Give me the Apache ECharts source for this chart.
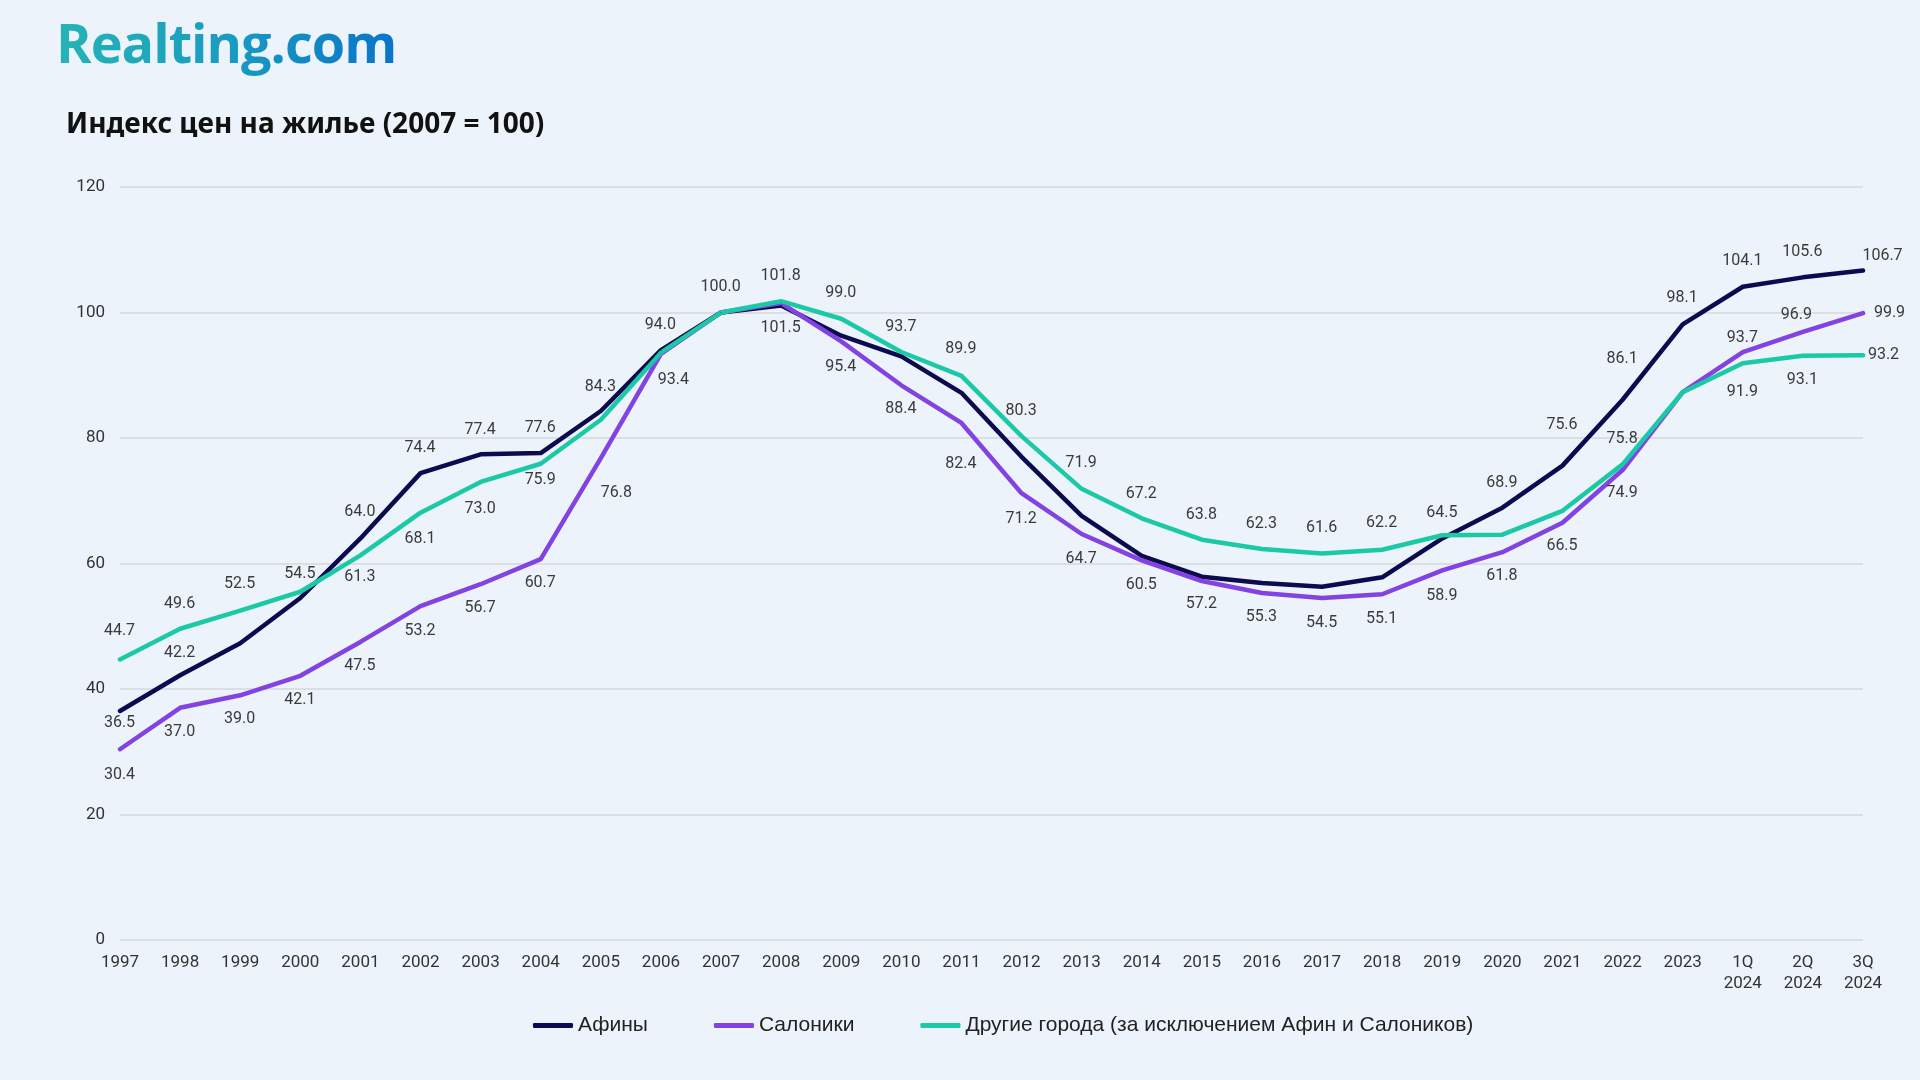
<!DOCTYPE html>
<html>
<head>
<meta charset="utf-8">
<script src="https://cdn.jsdelivr.net/npm/echarts@6/dist/echarts.min.js"></script>
<style>
html,body{margin:0;padding:0;background:#edf3fa;}
#wrap{position:relative;width:1920px;height:1080px;}
#chart{width:1920px;height:1080px;}
#logo{position:absolute;left:56px;top:7px;font-family:"Open Sans","Noto Sans",sans-serif;font-weight:700;font-size:54px;line-height:70px;letter-spacing:-1px;
  background:linear-gradient(90deg,#25b4b5 0%,#1a9cc0 50%,#0a74c9 100%);-webkit-background-clip:text;background-clip:text;color:transparent;-webkit-text-fill-color:transparent;}
</style>
</head>
<body>
<div id="wrap">
<div id="chart"></div>
<div id="logo">Realting.com</div>
</div>
<script>
// ---- Data ----
const categories = ['1997','1998','1999','2000','2001','2002','2003','2004','2005','2006','2007','2008','2009','2010','2011','2012','2013','2014','2015','2016','2017','2018','2019','2020','2021','2022','2023','1Q\n2024','2Q\n2024','3Q\n2024'];
const athens = [36.5,42.2,47.3,54.5,64.0,74.4,77.4,77.6,84.3,94.0,100.0,101.1,96.3,93.0,87.2,77.0,67.6,61.2,57.9,56.9,56.3,57.8,64.0,68.9,75.6,86.1,98.1,104.1,105.6,106.7];
const thessaloniki = [30.4,37.0,39.0,42.1,47.5,53.2,56.7,60.7,76.8,93.4,100.0,101.5,95.4,88.4,82.4,71.2,64.7,60.5,57.2,55.3,54.5,55.1,58.9,61.8,66.5,74.9,87.3,93.7,96.9,99.9];
const otherCities = [44.7,49.6,52.5,55.5,61.3,68.1,73.0,75.9,82.9,93.6,100.0,101.8,99.0,93.7,89.9,80.3,71.9,67.2,63.8,62.3,61.6,62.2,64.5,64.6,68.4,75.8,87.3,91.9,93.1,93.2];
const yTicks = [0,20,40,60,80,100,120];
const seriesNames = ['Афины','Салоники','Другие города (за исключением Афин и Салоников)'];

// ---- Label placement (style): offset of each label centre from its point, null = hidden ----
const athensLabelOffsets = [[0,13],[0,-22],null,[0,-24],[0,-26],[0,-25],[0,-24],[0,-25],[0,-24],[0,-25],[0,-25],null,null,null,null,null,null,null,null,null,null,null,null,[0,-24],[0,-40],[0,-40],[0,-26],[0,-25],[0,-25],[20,-14]];
const thessLabelOffsets = [[0,26],[0,25],[0,24],[0,25],[0,25],[0,25],[0,24],[0,24],[16,35],[13,27],null,[0,25],[0,26],[0,24],[0,42],[0,26],[0,25],[0,25],[0,23],[0,25],[0,25],[0,25],[0,26],[0,24],[0,24],[0,23],null,[0,-14],[-6,-16],[27,0]];
const otherLabelOffsets = [[0,-28],[0,-24],[0,-26],null,[0,22],[0,27],[0,28],[0,17],null,null,null,[0,-25],[0,-25],[0,-25],[0,-26],[0,-25],[0,-25],[0,-24],[0,-24],[0,-25],[0,-25],[0,-26],[0,-22],null,null,[0,-25],null,[0,29],[0,25],[21,0]];

const colors = ['#0c0b4f','#8243e2','#1cc9a6'];

function buildData(values, offsets){
  return values.map((v,i)=>({
    value: v,
    label: offsets[i] ? {show:true, position: offsets[i], align:'center', verticalAlign:'middle'} : {show:false}
  }));
}

function makeSeries(name, values, offsets, color){
  return {
    name: name,
    type: 'line',
    data: buildData(values, offsets),
    symbol: 'circle',
    symbolSize: 1,
    showSymbol: true,
    lineStyle: {width: 4.5, color: color, cap:'round', join:'round'},
    itemStyle: {color: color},
    emphasis: {disabled: true},
    label: {
      show: true,
      formatter: p => p.value.toFixed(1),
      fontFamily: 'Roboto, "Liberation Sans", sans-serif',
      fontSize: 16,
      color: '#3a3a3a'
    },
    labelLayout: {hideOverlap: false},
    z: 2
  };
}

const chart = echarts.init(document.getElementById('chart'), null, {renderer:'canvas'});
const option = {
  backgroundColor: '#edf3fa',
  animation: false,
  color: colors,
  graphic: [
    {
      type: 'text',
      left: 66,
      top: 111,
      style: {
        text: 'Индекс цен на жилье (2007 = 100)',
        fontFamily: '"Noto Sans", "Open Sans", sans-serif',
        fontWeight: 'bold',
        fontSize: 28,
        fill: '#111111'
      }
    }
  ],
  grid: {left: 120, right: 57, top: 187, bottom: 140, containLabel: false},
  legend: {
    left: 528,
    top: 1010,
    itemGap: 66,
    itemWidth: 40,
    itemHeight: 5,
    icon: 'roundRect',
    textStyle: {fontFamily: '"Liberation Sans", Roboto, sans-serif', fontSize: 21, color: '#222'},
    data: seriesNames.map((n,i)=>({name:n, itemStyle:{color:colors[i]}}))
  },
  xAxis: {
    type: 'category',
    data: categories,
    boundaryGap: false,
    axisLine: {show: false},
    axisTick: {show: false},
    axisLabel: {
      interval: 0,
      margin: 12,
      fontFamily: 'Roboto, "Liberation Sans", sans-serif',
      fontSize: 17,
      color: '#333',
      lineHeight: 21
    },
    splitLine: {show: false}
  },
  yAxis: {
    type: 'value',
    min: yTicks[0],
    max: yTicks[yTicks.length-1],
    interval: 20,
    axisLine: {show:false},
    axisTick: {show:false},
    axisLabel: {
      margin: 15,
      fontFamily: 'Roboto, "Liberation Sans", sans-serif',
      fontSize: 17,
      color: '#333'
    },
    splitLine: {lineStyle: {color: '#d5d8dc', width: 1.5}}
  },
  series: [
    makeSeries(seriesNames[0], athens, athensLabelOffsets, colors[0]),
    makeSeries(seriesNames[1], thessaloniki, thessLabelOffsets, colors[1]),
    makeSeries(seriesNames[2], otherCities, otherLabelOffsets, colors[2])
  ]
};
chart.setOption(option);
</script>
</body>
</html>
